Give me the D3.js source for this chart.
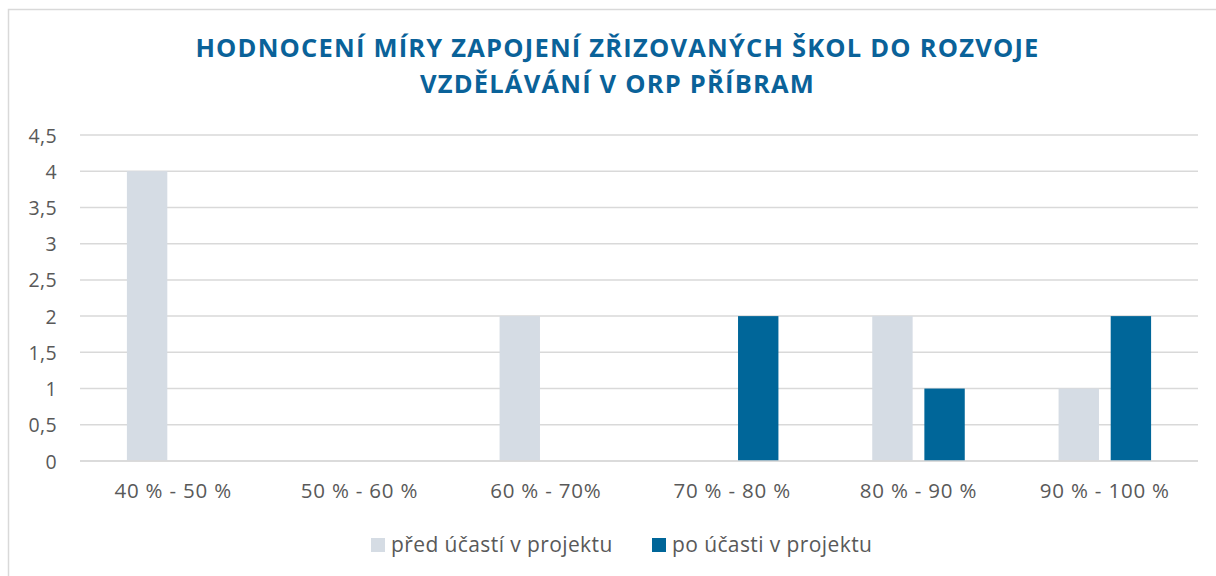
<!DOCTYPE html>
<html>
<head>
<meta charset="utf-8">
<script src="https://cdn.jsdelivr.net/npm/d3@7/dist/d3.min.js"></script>
<style>
  html, body { margin: 0; padding: 0; background: #fff; }
  svg { display: block; }
</style>
</head>
<body>
<svg id="chart" width="1216" height="576"></svg>
<script>
// Data
const categories = ["40 % - 50 %", "50 % - 60 %", "60 % - 70%", "70 % - 80 %", "80 % - 90 %", "90 % - 100 %"];
const seriesNames = ["před účastí v projektu", "po účasti v projektu"];
const beforeValues = [4, 0, 2, 0, 2, 1];
const afterValues = [0, 0, 0, 2, 1, 2];
const yTicks = [0, 0.5, 1, 1.5, 2, 2.5, 3, 3.5, 4, 4.5];
const titleLines = ["HODNOCENÍ MÍRY ZAPOJENÍ ZŘIZOVANÝCH ŠKOL DO ROZVOJE", "VZDĚLÁVÁNÍ V ORP PŘÍBRAM"];

const colors = ["#D5DCE4", "#006699"];
const textColor = "#595959";
const titleColor = "#0A6299";
const font = "'Open Sans', 'Liberation Sans', Arial, sans-serif";

const svg = d3.select("#chart");

// Outer chart frame
svg.append("rect")
  .attr("x", 8.5).attr("y", 9.5)
  .attr("width", 1230).attr("height", 600)
  .attr("fill", "#fff")
  .attr("stroke", "#D9D9D9").attr("stroke-width", 1.5);

const plot = { left: 80, right: 1198, top: 135, bottom: 461 };

const x0 = d3.scaleBand()
  .domain(categories)
  .range([plot.left, plot.right])
  .paddingInner(0).paddingOuter(0);

const x1 = d3.scaleBand()
  .domain(seriesNames)
  .range([0, x0.bandwidth()])
  .paddingInner(0.225)
  .paddingOuter(0.9);

const y = d3.scaleLinear().domain([0, 4.5]).range([plot.bottom, plot.top]);

// Gridlines
svg.append("g")
  .selectAll("line")
  .data(yTicks)
  .join("line")
  .attr("x1", plot.left).attr("x2", plot.right)
  .attr("y1", d => y(d)).attr("y2", d => y(d))
  .attr("stroke", "#D9D9D9")
  .attr("stroke-width", 1.5);

// Y axis labels
const fmt = d => String(d).replace(".", ",");
const yAxis = d3.axisLeft(y).tickValues(yTicks).tickFormat(fmt).tickSize(0).tickPadding(0);
const yg = svg.append("g").attr("transform", `translate(${plot.left - 23},0)`).call(yAxis);
yg.select(".domain").remove();
yg.selectAll("text")
  .attr("fill", textColor)
  .attr("font-family", font)
  .attr("font-size", 19.5)
  .attr("letter-spacing", 0.4)
  .attr("dy", "0.36em");

// Bars
const rows = categories.map((c, i) => ({ cat: c, vals: [beforeValues[i], afterValues[i]] }));
const groups = svg.append("g")
  .selectAll("g")
  .data(rows)
  .join("g")
  .attr("transform", d => `translate(${x0(d.cat)},0)`);

groups.selectAll("rect")
  .data(d => d.vals.map((v, k) => ({ name: seriesNames[k], v, k })).filter(e => e.v > 0))
  .join("rect")
  .attr("x", d => x1(d.name))
  .attr("width", x1.bandwidth())
  .attr("y", d => y(d.v))
  .attr("height", d => y(0) - y(d.v))
  .attr("fill", d => colors[d.k]);

// Baseline redrawn over bars
svg.append("line")
  .attr("x1", plot.left).attr("x2", plot.right)
  .attr("y1", y(0)).attr("y2", y(0))
  .attr("stroke", "#D9D9D9").attr("stroke-width", 1.5);

// X axis labels
const xAxis = d3.axisBottom(x0).tickSize(0).tickPadding(0);
const xg = svg.append("g").attr("transform", `translate(0,${plot.bottom})`).call(xAxis);
xg.select(".domain").remove();
xg.selectAll("text")
  .attr("fill", textColor)
  .attr("font-family", font)
  .attr("font-size", 20.5)
  .attr("letter-spacing", 0.8)
  .attr("y", 37)
  .attr("dy", null);

// Title
svg.append("g")
  .selectAll("text")
  .data(titleLines)
  .join("text")
  .attr("x", 617.5)
  .attr("y", (d, i) => 57 + i * 36)
  .attr("text-anchor", "middle")
  .attr("fill", titleColor)
  .attr("font-family", font)
  .attr("font-weight", "bold")
  .attr("font-size", 25.5)
  .attr("letter-spacing", 1.2)
  .text(d => d);

// Legend
const legendItems = [
  { name: seriesNames[0], color: colors[0], x: 371 },
  { name: seriesNames[1], color: colors[1], x: 652 }
];
const lg = svg.append("g")
  .selectAll("g")
  .data(legendItems)
  .join("g")
  .attr("transform", d => `translate(${d.x},538)`);
lg.append("rect").attr("width", 14).attr("height", 14).attr("fill", d => d.color);
lg.append("text")
  .attr("x", 20).attr("y", 14)
  .attr("fill", textColor)
  .attr("font-family", font)
  .attr("font-size", 21)
  .attr("letter-spacing", 0.4)
  .text(d => d.name);
</script>
</body>
</html>
